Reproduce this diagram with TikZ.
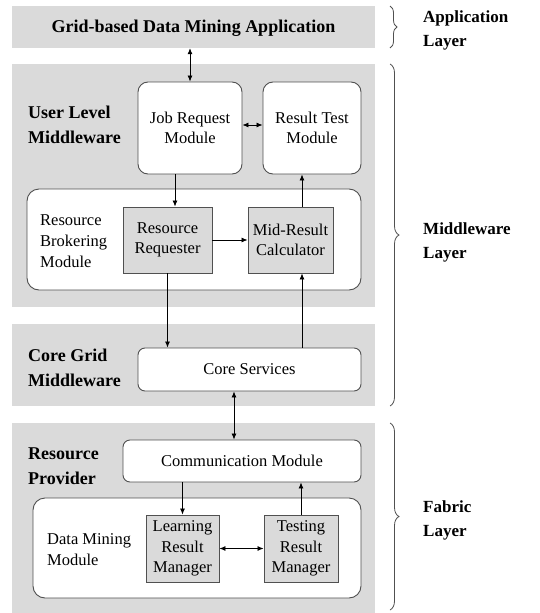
\documentclass[tikz,border=0pt]{standalone}
\usepackage{fontspec}
\setmainfont{Liberation Serif}
\usetikzlibrary{arrows.meta,decorations.pathreplacing}
\definecolor{panelgray}{RGB}{218,218,218}
\definecolor{boxline}{RGB}{80,80,80}
\tikzset{
  panel/.style={fill=panelgray,draw=none,minimum width=363pt,inner sep=0pt},
  wbox/.style={fill=white,draw=boxline,line width=0.9pt,rounded corners=#1,inner sep=0pt,align=center,font=\fontsize{16.5}{20.5}\selectfont},
  wbox/.default=10pt,
  gbox/.style={fill=panelgray,draw=boxline,line width=0.9pt,inner sep=0pt,align=center,font=\fontsize{16.5}{20.5}\selectfont},
  blabel/.style={anchor=west,align=left,inner sep=0pt,font=\fontsize{18}{25}\bfseries\selectfont},
  nlabel/.style={anchor=west,align=left,inner sep=0pt,font=\fontsize{16.5}{21}\selectfont},
  rlabel/.style={anchor=west,align=left,inner sep=0pt,font=\fontsize{17}{24}\bfseries\selectfont},
  arr/.style={-{Latex[length=6pt,width=5pt]},line width=0.8pt},
  darr/.style={{Latex[length=6pt,width=5pt]}-{Latex[length=6pt,width=5pt]},line width=0.8pt},
  lbrace/.style={decorate,decoration={brace,amplitude=7pt},draw=boxline,line width=0.8pt}
}
\begin{document}
\begin{tikzpicture}[x=1pt,y=-1pt]
\useasboundingbox (0,0) rectangle (539,613);
% panels
\node[panel,minimum height=42pt] (app) at (193.5,27) {};
\node[panel,minimum height=243pt] (ulm) at (193.5,185.5) {};
\node[panel,minimum height=82pt] (cgm) at (193.5,365) {};
\node[panel,minimum height=190pt] (rp) at (193.5,518) {};
\node[font=\fontsize{18}{22}\bfseries\selectfont,inner sep=0pt] (apptext) at (193.5,28) {Grid-based Data Mining Application};
% user level middleware
\node[wbox,minimum width=104pt,minimum height=92pt] (jrm) at (190,128) {Job Request\\Module};
\node[wbox,minimum width=98pt,minimum height=92pt] (rtm) at (312,128) {Result Test\\Module};
\node[wbox=12pt,minimum width=334pt,minimum height=101pt] (rbm) at (194,239.5) {};
\node[gbox,minimum width=89pt,minimum height=66pt] (rr) at (167.5,240) {Resource\\Requester};
\node[gbox,minimum width=85pt,minimum height=66pt] (mrc) at (290.5,240) {Mid-Result\\Calculator};
\node[blabel] (ulmtext) at (28,125) {User Level\\Middleware};
\node[nlabel] (rbmtext) at (40,241) {Resource\\Brokering\\Module};
% core grid
\node[wbox=7pt,minimum width=223pt,minimum height=43pt] (cs) at (249.5,369.5) {Core Services};
\node[blabel] (cgmtext) at (28,367.5) {Core Grid\\Middleware};
% resource provider
\node[wbox=7pt,minimum width=238pt,minimum height=42pt] (cm) at (242,461) {Communication Module};
\node[wbox=12pt,minimum width=328pt,minimum height=100pt] (dmm) at (197,548) {};
\node[gbox,minimum width=73pt,minimum height=67pt] (lrm) at (182.5,548.5) {Learning\\Result\\Manager};
\node[gbox,minimum width=74pt,minimum height=67pt] (trm) at (301,548.5) {Testing\\Result\\Manager};
\node[blabel] (rptext) at (28,466.5) {Resource\\Provider};
\node[nlabel] (dmmtext) at (47,549.5) {Data Mining\\Module};
% arrows
\draw[darr] (app.south -| jrm.north) -- (jrm.north);
\draw[darr] (jrm.east |- 0,125) -- (rtm.west |- 0,125);
\draw[arr] (jrm.south -| 175,0) -- (rr.north -| 175,0);
\draw[arr] (mrc.north -| 302,0) -- (rtm.south -| 302,0);
\draw[arr] (rr.east) -- (mrc.west);
\draw[arr] (rr.south) -- (cs.north -| rr.south);
\draw[arr] (cs.north -| 302,0) -- (mrc.south -| 302,0);
\draw[darr] (cs.south -| 234,0) -- (cm.north -| 234,0);
\draw[arr] (cm.south -| lrm.north) -- (lrm.north);
\draw[arr] (trm.north) -- (cm.south -| trm.north);
\draw[darr] (lrm.east) -- (trm.west);
% braces
\coordinate (b1t) at (390,6);
\coordinate (b1b) at (390,48);
\coordinate (b2t) at (390,64);
\coordinate (b2b) at (390,406);
\coordinate (b3t) at (390,423);
\coordinate (b3b) at (390,610);
\draw[lbrace] (b1t) -- (b1b);
\draw[lbrace,decoration={amplitude=9pt}] (b2t) -- (b2b);
\draw[lbrace,decoration={amplitude=9pt}] (b3t) -- (b3b);
\node[rlabel] (l1) at (423,30) {Application\\Layer};
\node[rlabel] (l2) at (423,242) {Middleware\\Layer};
\node[rlabel] (l3) at (423,520) {Fabric\\Layer};
\end{tikzpicture}
\end{document}
